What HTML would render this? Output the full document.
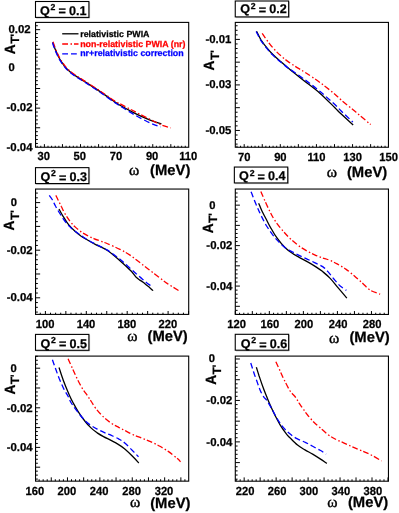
<!DOCTYPE html><html><head><meta charset="utf-8"><title>A_T plots</title>
<style>html,body{margin:0;padding:0;background:#fff}svg{display:block;will-change:transform;opacity:0.999}text{font-family:"Liberation Sans", sans-serif;font-weight:bold;fill:#000;stroke:#000;stroke-width:0.25px;text-rendering:geometricPrecision}</style></head><body>
<svg width="399" height="513" viewBox="0 0 399 513">
<rect width="399" height="513" fill="#fff"/>
<g transform="translate(0,0)">
<g transform="translate(0,0)"><rect x="35.5" y="1.5" width="53.4" height="15.9" fill="#fff" stroke="#000" stroke-width="1.1"/><path d="M89.6 2.2V18.1H36.2" fill="none" stroke="#000" stroke-opacity="0.35" stroke-width="0.7"/></g>
<text transform="translate(0,0)" y="14.6" font-size="12.6"><tspan x="39.9">Q</tspan><tspan x="50.6" font-size="8.7" dy="-4.5">2</tspan><tspan x="58.4" dy="5.2">=</tspan><tspan x="68.9" dy="-0.7">0.1</tspan></text>
<path d="M52.8 42.2C53.0 42.8 53.5 44.7 54.0 46.0C54.5 47.3 54.9 48.6 55.5 50.0C56.1 51.4 56.8 52.9 57.5 54.5C58.2 56.1 59.1 57.9 60.0 59.5C60.9 61.1 61.9 62.5 63.0 64.0C64.1 65.5 65.2 67.1 66.5 68.5C67.8 69.9 69.1 71.0 70.5 72.2C71.9 73.4 72.6 73.9 75.0 75.5C77.4 77.1 80.8 79.1 85.0 81.8C89.2 84.5 95.1 88.2 100.1 91.6C105.1 95.0 111.8 99.8 115.1 102.1C118.4 104.4 116.7 103.4 120.0 105.3C123.3 107.2 130.0 110.8 135.0 113.3C140.0 115.8 145.7 118.3 150.1 120.1C154.5 121.8 159.5 123.2 161.4 123.8" fill="none" stroke="#000" stroke-width="1.3"/>
<path d="M53.1 41.8C53.3 42.4 53.8 44.3 54.3 45.6C54.8 46.9 55.2 48.2 55.8 49.6C56.4 51.0 57.0 52.5 57.8 54.1C58.5 55.7 59.4 57.5 60.3 59.1C61.2 60.7 62.2 62.1 63.3 63.6C64.4 65.1 65.5 66.7 66.8 68.1C68.0 69.5 69.4 70.6 70.8 71.8C72.2 73.0 72.9 73.5 75.3 75.1C77.7 76.7 81.1 78.7 85.3 81.4C89.5 84.1 95.4 87.9 100.4 91.2C105.4 94.5 111.8 99.1 115.1 101.2C118.4 103.3 116.7 102.0 120.0 103.8C123.3 105.5 130.0 109.1 135.0 111.7C140.0 114.3 145.6 117.1 150.0 119.3C154.4 121.5 157.9 123.5 161.4 124.9C164.9 126.3 169.2 127.4 170.8 127.9" fill="none" stroke="#f00" stroke-width="1.3" stroke-dasharray="5.8 2.5 1.5 2"/>
<path d="M52.5 42.6C52.7 43.2 53.2 45.1 53.7 46.4C54.2 47.7 54.6 49.0 55.2 50.4C55.8 51.8 56.5 53.3 57.2 54.9C58.0 56.5 58.8 58.3 59.7 59.9C60.6 61.5 61.6 62.9 62.7 64.4C63.8 65.9 65.0 67.5 66.2 68.9C67.5 70.3 68.8 71.4 70.2 72.6C71.6 73.8 72.3 74.3 74.7 75.9C77.1 77.5 80.5 79.5 84.7 82.2C88.9 84.9 94.8 88.6 99.8 92.0C104.8 95.4 111.1 100.2 115.0 102.8C118.9 105.4 119.7 105.7 123.0 107.7C126.3 109.8 130.5 112.6 135.0 115.1C139.5 117.6 145.7 120.9 150.0 122.9C154.3 124.9 158.8 126.3 160.6 127.0" fill="none" stroke="#00f" stroke-width="1.3" stroke-dasharray="5.8 3"/>
<rect x="35.55" y="22.4" width="153.15" height="124.85" fill="none" stroke="#000" stroke-width="1.1"/>
<path d="M37.18 147.25v-1.5M40.79 147.25v-1.5M44.40 147.25v-3.1M48.01 147.25v-1.5M51.62 147.25v-1.5M55.24 147.25v-1.5M58.85 147.25v-1.5M62.46 147.25v-3.1M66.07 147.25v-1.5M69.68 147.25v-1.5M73.30 147.25v-1.5M76.91 147.25v-1.5M80.52 147.25v-3.1M84.13 147.25v-1.5M87.74 147.25v-1.5M91.36 147.25v-1.5M94.97 147.25v-1.5M98.58 147.25v-3.1M102.19 147.25v-1.5M105.80 147.25v-1.5M109.42 147.25v-1.5M113.03 147.25v-1.5M116.64 147.25v-3.1M120.25 147.25v-1.5M123.86 147.25v-1.5M127.48 147.25v-1.5M131.09 147.25v-1.5M134.70 147.25v-3.1M138.31 147.25v-1.5M141.92 147.25v-1.5M145.54 147.25v-1.5M149.15 147.25v-1.5M152.76 147.25v-3.1M156.37 147.25v-1.5M159.98 147.25v-1.5M163.60 147.25v-1.5M167.21 147.25v-1.5M170.82 147.25v-3.1M174.43 147.25v-1.5M178.04 147.25v-1.5M181.66 147.25v-1.5M185.27 147.25v-1.5" stroke="#000" stroke-width="1" fill="none"/>
<text transform="translate(43.7,160.3) scale(1,1.05)" font-size="11.2" text-anchor="middle">30</text>
<text transform="translate(79.8,160.3) scale(1,1.05)" font-size="11.2" text-anchor="middle">50</text>
<text transform="translate(115.9,160.3) scale(1,1.05)" font-size="11.2" text-anchor="middle">70</text>
<text transform="translate(152.1,160.3) scale(1,1.05)" font-size="11.2" text-anchor="middle">90</text>
<text transform="translate(188.2,160.3) scale(1,1.05)" font-size="11.2" text-anchor="middle">110</text>
<path d="M35.55 143.46h2.3M35.55 139.53h2.3M35.55 135.61h2.3M35.55 131.68h2.3M35.55 127.76h4.6M35.55 123.84h2.3M35.55 119.91h2.3M35.55 115.99h2.3M35.55 112.06h2.3M35.55 108.14h4.6M35.55 104.22h2.3M35.55 100.29h2.3M35.55 96.37h2.3M35.55 92.44h2.3M35.55 88.52h4.6M35.55 84.60h2.3M35.55 80.67h2.3M35.55 76.75h2.3M35.55 72.82h2.3M35.55 68.90h4.6M35.55 64.98h2.3M35.55 61.05h2.3M35.55 57.13h2.3M35.55 53.20h2.3M35.55 49.28h4.6M35.55 45.36h2.3M35.55 41.43h2.3M35.55 37.51h2.3M35.55 33.58h2.3M35.55 29.66h4.6M35.55 25.74h2.3" stroke="#000" stroke-width="1" fill="none"/>
<text x="19.50" y="33.0" font-size="11.4" text-anchor="middle">0.02</text>
<text x="19.50" y="111.4" font-size="11.4" text-anchor="middle">-0.02</text>
<text x="19.50" y="150.7" font-size="11.4" text-anchor="middle">-0.04</text>
<text x="8.5" y="71.1" font-size="11.2">0</text>
<g transform="translate(15,53.9) rotate(-90)"><text transform="scale(0.92,1)" x="-0.3" font-size="14.8">A</text><text x="10.1" y="4.2" font-size="12">T</text><text x="17.1" y="4.2" font-size="12">'</text></g>
<text x="129.0" y="175.3" font-size="15.6" style="font-weight:normal;stroke-width:0.4px;font-family:'Liberation Serif',serif">ω</text>
<text x="150.1" y="175.3" font-size="14.8">(MeV)</text>
<path d="M62.2 33.8H78.5" stroke="#000" stroke-width="1.3"/>
<path d="M62.2 44H78.5" stroke="#f00" stroke-width="1.3" stroke-dasharray="5.8 2.5 1.5 2"/>
<path d="M62.2 53.8H78.5" stroke="#00f" stroke-width="1.3" stroke-dasharray="5.8 3"/>
<text x="80.2" y="36.6" font-size="8.85">relativistic PWIA</text>
<text x="80.2" y="46.5" font-size="8.85" style="fill:#f00;stroke:#f00">non-relativistic PWIA (nr)</text>
<text x="80.2" y="56.3" font-size="8.85" style="fill:#00f;stroke:#00f">nr+relativistic correction</text>
</g>
<g transform="translate(199.75,0)">
<g transform="translate(0,-0.5)"><rect x="35.5" y="1.5" width="53.4" height="15.9" fill="#fff" stroke="#000" stroke-width="1.1"/><path d="M89.6 2.2V18.1H36.2" fill="none" stroke="#000" stroke-opacity="0.35" stroke-width="0.7"/></g>
<text transform="translate(0.5,-1.2)" y="14.6" font-size="12.6"><tspan x="39.9">Q</tspan><tspan x="50.6" font-size="8.7" dy="-4.5">2</tspan><tspan x="58.4" dy="5.2">=</tspan><tspan x="68.9" dy="-0.7">0.2</tspan></text>
<path d="M56.8 31.2C57.5 32.6 59.5 37.0 61.2 39.8C63.0 42.6 65.3 45.6 67.4 48.1C69.4 50.6 71.1 52.5 73.4 54.8C75.6 57.0 78.4 59.4 80.9 61.6C83.4 63.8 85.9 65.9 88.4 67.9C90.8 70.0 92.9 71.7 95.8 73.9C98.6 76.2 101.1 78.2 105.2 81.4C109.4 84.7 115.3 89.0 120.4 93.4C125.4 97.8 131.9 104.6 135.4 108.0C138.8 111.4 138.2 111.0 141.2 113.8C144.2 116.6 151.3 123.2 153.4 125.1" fill="none" stroke="#000" stroke-width="1.3"/>
<path d="M62.4 33.3C63.3 34.5 65.5 38.0 67.4 40.5C69.2 43.0 71.1 45.6 73.4 48.1C75.6 50.6 78.4 53.4 80.9 55.6C83.4 57.9 85.6 59.6 88.4 61.6C91.1 63.6 94.5 65.8 97.4 67.6C100.2 69.4 101.4 69.8 105.2 72.3C109.1 74.8 115.3 78.9 120.4 82.6C125.4 86.3 131.9 91.5 135.4 94.4C138.8 97.3 137.8 96.8 141.2 99.8C144.8 102.8 151.4 108.2 156.4 112.3C161.3 116.4 168.4 122.5 170.9 124.6" fill="none" stroke="#f00" stroke-width="1.3" stroke-dasharray="5.8 2.5 1.5 2"/>
<path d="M56.4 31.5C57.2 32.9 59.2 37.3 60.9 40.1C62.7 42.9 65.0 45.9 67.1 48.4C69.1 50.9 70.8 52.9 73.1 55.1C75.3 57.3 78.1 59.7 80.6 61.8C83.2 63.9 86.6 66.7 88.2 67.9C89.9 69.1 87.4 67.2 90.2 69.2C93.1 71.2 100.2 76.1 105.2 79.8C110.3 83.5 115.3 87.4 120.4 91.6C125.4 95.8 131.9 101.6 135.4 104.8C138.8 108.0 138.3 107.9 141.2 110.8C144.2 113.7 151.1 120.2 153.1 122.1" fill="none" stroke="#00f" stroke-width="1.3" stroke-dasharray="5.8 3"/>
<rect x="35.55" y="22.4" width="153.15" height="124.85" fill="none" stroke="#000" stroke-width="1.1"/>
<path d="M37.21 147.25v-1.5M40.82 147.25v-1.5M44.44 147.25v-3.1M48.05 147.25v-1.5M51.66 147.25v-1.5M55.27 147.25v-1.5M58.88 147.25v-1.5M62.50 147.25v-3.1M66.11 147.25v-1.5M69.72 147.25v-1.5M73.33 147.25v-1.5M76.94 147.25v-1.5M80.56 147.25v-3.1M84.17 147.25v-1.5M87.78 147.25v-1.5M91.39 147.25v-1.5M95.00 147.25v-1.5M98.62 147.25v-3.1M102.23 147.25v-1.5M105.84 147.25v-1.5M109.45 147.25v-1.5M113.06 147.25v-1.5M116.68 147.25v-3.1M120.29 147.25v-1.5M123.90 147.25v-1.5M127.51 147.25v-1.5M131.12 147.25v-1.5M134.74 147.25v-3.1M138.35 147.25v-1.5M141.96 147.25v-1.5M145.57 147.25v-1.5M149.18 147.25v-1.5M152.80 147.25v-3.1M156.41 147.25v-1.5M160.02 147.25v-1.5M163.63 147.25v-1.5M167.24 147.25v-1.5M170.86 147.25v-3.1M174.47 147.25v-1.5M178.08 147.25v-1.5M181.69 147.25v-1.5M185.30 147.25v-1.5" stroke="#000" stroke-width="1" fill="none"/>
<text transform="translate(44.4,160.6) scale(1,1.05)" font-size="11.2" text-anchor="middle">70</text>
<text transform="translate(80.6,160.6) scale(1,1.05)" font-size="11.2" text-anchor="middle">90</text>
<text transform="translate(116.7,160.6) scale(1,1.05)" font-size="11.2" text-anchor="middle">110</text>
<text transform="translate(152.8,160.6) scale(1,1.05)" font-size="11.2" text-anchor="middle">130</text>
<text transform="translate(188.9,160.6) scale(1,1.05)" font-size="11.2" text-anchor="middle">150</text>
<path d="M35.55 144.10h2.3M35.55 139.54h2.3M35.55 134.99h2.3M35.55 130.44h4.6M35.55 125.89h2.3M35.55 121.34h2.3M35.55 116.78h2.3M35.55 112.23h2.3M35.55 107.68h4.6M35.55 103.13h2.3M35.55 98.58h2.3M35.55 94.02h2.3M35.55 89.47h2.3M35.55 84.92h4.6M35.55 80.37h2.3M35.55 75.82h2.3M35.55 71.26h2.3M35.55 66.71h2.3M35.55 62.16h4.6M35.55 57.61h2.3M35.55 53.06h2.3M35.55 48.50h2.3M35.55 43.95h2.3M35.55 39.40h4.6M35.55 34.85h2.3M35.55 30.30h2.3M35.55 25.74h2.3" stroke="#000" stroke-width="1" fill="none"/>
<text x="18.70" y="42.8" font-size="11.4" text-anchor="middle">-0.01</text>
<text x="18.70" y="88.3" font-size="11.4" text-anchor="middle">-0.03</text>
<text x="18.70" y="133.8" font-size="11.4" text-anchor="middle">-0.05</text>
<g transform="translate(14.5,70.2) rotate(-90)"><text transform="scale(0.92,1)" x="-0.3" font-size="14.8">A</text><text x="10.1" y="5.2" font-size="12">T</text><text x="17.1" y="5.2" font-size="12">'</text></g>
<text x="127.0" y="177.2" font-size="15.6" style="font-weight:normal;stroke-width:0.4px;font-family:'Liberation Serif',serif">ω</text>
<text x="147.2" y="176.6" font-size="14.8">(MeV)</text>
</g>
<g transform="translate(0,166.65)">
<g transform="translate(0,-0.5)"><rect x="35.5" y="1.5" width="53.4" height="15.9" fill="#fff" stroke="#000" stroke-width="1.1"/><path d="M89.6 2.2V18.1H36.2" fill="none" stroke="#000" stroke-opacity="0.35" stroke-width="0.7"/></g>
<text transform="translate(0.5,-0.3)" y="14.6" font-size="12.6"><tspan x="39.9">Q</tspan><tspan x="50.6" font-size="8.7" dy="-4.5">2</tspan><tspan x="58.4" dy="5.2">=</tspan><tspan x="68.9" dy="-0.7">0.3</tspan></text>
<path d="M59.0 42.3C59.8 43.8 62.1 48.2 63.8 50.8C65.4 53.5 66.9 56.1 68.8 58.3C70.6 60.6 72.9 62.7 75.0 64.6C77.1 66.5 79.2 68.1 81.2 69.6C83.3 71.1 85.0 71.9 87.5 73.3C90.0 74.8 92.9 76.5 96.2 78.2C99.6 80.0 103.5 81.3 107.5 83.9C111.5 86.6 116.2 90.7 120.0 94.0C123.8 97.2 127.9 101.3 130.0 103.3C132.1 105.4 131.5 104.8 132.5 106.0C133.5 107.3 135.1 109.5 136.2 110.7C137.4 111.8 138.4 112.4 139.4 113.2C140.4 113.9 140.9 114.1 142.5 115.2C144.1 116.4 147.0 118.8 148.8 120.2C150.5 121.7 152.4 123.3 153.1 124.0" fill="none" stroke="#000" stroke-width="1.3"/>
<path d="M55.8 28.7C56.2 29.4 57.2 31.5 58.1 33.3C59.0 35.2 60.1 37.3 61.2 39.6C62.4 41.9 63.5 44.6 65.0 47.1C66.5 49.6 68.3 52.4 70.0 54.6C71.7 56.8 73.1 58.5 75.0 60.2C76.9 62.0 79.2 63.8 81.2 65.2C83.3 66.7 85.4 67.8 87.5 68.9C89.6 70.1 91.7 71.1 93.8 71.9C95.8 72.8 97.6 73.4 99.9 74.2C102.2 75.1 104.2 75.7 107.5 77.1C110.8 78.5 116.2 80.8 120.0 82.8C123.8 84.7 126.2 86.0 130.0 88.5C133.8 91.1 138.3 94.8 142.5 98.0C146.7 101.1 150.8 104.4 155.0 107.5C159.2 110.7 163.5 114.2 167.5 117.0C171.5 119.7 176.9 122.8 178.8 124.0" fill="none" stroke="#f00" stroke-width="1.3" stroke-dasharray="5.8 2.5 1.5 2"/>
<path d="M49.3 28.7C49.8 29.4 51.5 31.5 52.5 33.3C53.5 35.2 54.4 37.3 55.6 39.6C56.9 41.9 58.4 44.6 60.0 47.1C61.6 49.6 63.3 52.4 65.0 54.6C66.7 56.8 68.3 58.6 70.0 60.2C71.7 61.9 73.1 63.1 75.0 64.6C76.9 66.0 79.2 67.5 81.2 68.9C83.3 70.4 85.2 71.7 87.5 73.1C89.8 74.5 91.7 75.5 95.0 77.2C98.3 79.0 103.3 81.0 107.5 83.5C111.7 86.1 116.2 89.8 120.0 92.7C123.8 95.7 127.3 99.1 130.0 101.5C132.7 103.8 134.2 105.2 136.2 107.1C138.3 108.9 140.4 110.8 142.5 112.5C144.6 114.3 147.1 116.5 148.8 117.7C150.4 119.0 151.7 119.8 152.2 120.2" fill="none" stroke="#00f" stroke-width="1.3" stroke-dasharray="5.8 3"/>
<rect x="35.55" y="22.4" width="153.15" height="125.35" fill="none" stroke="#000" stroke-width="1.1"/>
<path d="M40.28 147.75v-1.7M45.40 147.75v-3.4M50.51 147.75v-1.7M55.62 147.75v-1.7M60.73 147.75v-1.7M65.85 147.75v-3.4M70.96 147.75v-1.7M76.07 147.75v-1.7M81.18 147.75v-1.7M86.30 147.75v-3.4M91.41 147.75v-1.7M96.52 147.75v-1.7M101.63 147.75v-1.7M106.75 147.75v-3.4M111.86 147.75v-1.7M116.97 147.75v-1.7M122.08 147.75v-1.7M127.20 147.75v-3.4M132.31 147.75v-1.7M137.42 147.75v-1.7M142.53 147.75v-1.7M147.65 147.75v-3.4M152.76 147.75v-1.7M157.87 147.75v-1.7M162.98 147.75v-1.7M168.10 147.75v-3.4M173.21 147.75v-1.7M178.32 147.75v-1.7M183.43 147.75v-1.7M188.55 147.75v-3.4" stroke="#000" stroke-width="1" fill="none"/>
<text transform="translate(45.1,161.7) scale(1,1.05)" font-size="11.2" text-anchor="middle">100</text>
<text transform="translate(86.0,161.7) scale(1,1.05)" font-size="11.2" text-anchor="middle">140</text>
<text transform="translate(126.9,161.7) scale(1,1.05)" font-size="11.2" text-anchor="middle">180</text>
<text transform="translate(167.8,161.7) scale(1,1.05)" font-size="11.2" text-anchor="middle">220</text>
<path d="M35.55 145.43h2.3M35.55 140.67h2.3M35.55 135.91h2.3M35.55 131.15h4.6M35.55 126.39h2.3M35.55 121.63h2.3M35.55 116.87h2.3M35.55 112.11h2.3M35.55 107.35h4.6M35.55 102.59h2.3M35.55 97.83h2.3M35.55 93.07h2.3M35.55 88.31h2.3M35.55 83.55h4.6M35.55 78.79h2.3M35.55 74.03h2.3M35.55 69.27h2.3M35.55 64.51h2.3M35.55 59.75h4.6M35.55 54.99h2.3M35.55 50.23h2.3M35.55 45.47h2.3M35.55 40.71h2.3M35.55 35.95h4.6M35.55 31.19h2.3M35.55 26.43h2.3" stroke="#000" stroke-width="1" fill="none"/>
<text x="19.65" y="87.2" font-size="11.4" text-anchor="middle">-0.02</text>
<text x="19.65" y="134.8" font-size="11.4" text-anchor="middle">-0.04</text>
<text x="10.8" y="39.3" font-size="11.2">0</text>
<g transform="translate(14,63.55) rotate(-90)"><text transform="scale(0.92,1)" x="-0.3" font-size="14.8">A</text><text x="10.1" y="5" font-size="12">T</text><text x="17.1" y="5" font-size="12">'</text></g>
<text x="127.2" y="174.7" font-size="15.6" style="font-weight:normal;stroke-width:0.4px;font-family:'Liberation Serif',serif">ω</text>
<text x="147.5" y="174.2" font-size="14.8">(MeV)</text>
</g>
<g transform="translate(199.75,166.65)">
<g transform="translate(-0.9,-1.1)"><rect x="35.5" y="1.5" width="53.4" height="15.9" fill="#fff" stroke="#000" stroke-width="1.1"/><path d="M89.6 2.2V18.1H36.2" fill="none" stroke="#000" stroke-opacity="0.35" stroke-width="0.7"/></g>
<text transform="translate(-0.6,-0.8)" y="14.6" font-size="12.6"><tspan x="39.9">Q</tspan><tspan x="50.6" font-size="8.7" dy="-4.5">2</tspan><tspan x="58.4" dy="5.2">=</tspan><tspan x="68.9" dy="-0.7">0.4</tspan></text>
<path d="M58.9 36.5C59.5 37.9 60.9 41.6 62.2 44.4C63.6 47.3 65.3 50.5 66.9 53.4C68.4 56.4 69.6 58.9 71.4 61.9C73.1 65.0 75.2 68.7 77.6 71.8C79.9 75.0 82.7 78.4 85.2 80.9C87.8 83.5 90.3 85.2 92.9 86.9C95.4 88.6 97.9 89.8 100.4 91.2C102.9 92.5 105.4 93.7 107.9 95.2C110.4 96.6 112.9 98.1 115.4 99.7C117.8 101.3 120.1 102.8 122.6 104.7C125.0 106.7 127.6 108.7 130.2 111.5C132.9 114.2 135.4 117.7 138.2 121.0C141.1 124.4 145.7 129.8 147.1 131.5" fill="none" stroke="#000" stroke-width="1.3"/>
<path d="M61.1 24.8C61.8 26.5 63.9 31.4 65.4 34.7C66.8 37.9 68.4 41.4 69.9 44.4C71.4 47.4 72.6 49.9 74.4 52.7C76.1 55.4 78.4 58.4 80.4 60.9C82.4 63.5 84.3 65.5 86.4 67.8C88.4 70.0 90.5 72.1 92.9 74.2C95.2 76.2 97.9 78.4 100.4 80.2C102.9 81.9 105.4 83.3 107.9 84.7C110.4 86.0 112.9 87.4 115.4 88.4C117.8 89.5 120.1 90.3 122.6 91.2C125.0 92.0 127.6 92.6 130.2 93.7C132.9 94.8 135.6 96.3 138.2 97.7C140.9 99.2 143.7 100.8 146.4 102.7C149.0 104.5 151.7 106.8 154.4 109.0C157.0 111.3 159.7 113.8 162.4 116.2C165.0 118.6 167.4 121.6 170.4 123.5C173.4 125.3 178.7 126.8 180.4 127.5" fill="none" stroke="#f00" stroke-width="1.3" stroke-dasharray="5.8 2.5 1.5 2"/>
<path d="M51.3 25.2C51.9 26.6 53.4 30.5 54.5 33.3C55.6 36.2 57.0 39.3 58.2 42.1C59.5 44.9 60.5 47.3 62.0 50.2C63.5 53.2 65.2 56.7 67.0 59.6C68.8 62.5 70.8 65.3 72.6 67.8C74.5 70.2 76.0 72.0 78.1 74.2C80.2 76.4 82.8 79.1 85.2 80.9C87.7 82.8 90.3 84.1 92.9 85.4C95.4 86.8 97.9 88.0 100.4 89.2C102.9 90.4 105.4 91.5 107.9 92.7C110.4 93.8 112.9 95.0 115.4 96.2C117.9 97.5 120.7 98.5 122.9 100.0C125.0 101.4 126.4 102.9 128.2 105.0C130.1 107.0 132.1 110.0 134.1 112.3C136.1 114.7 138.2 117.3 140.2 119.2C142.3 121.0 145.5 122.9 146.6 123.7" fill="none" stroke="#00f" stroke-width="1.3" stroke-dasharray="5.8 3"/>
<rect x="35.55" y="22.4" width="153.15" height="125.4" fill="none" stroke="#000" stroke-width="1.1"/>
<path d="M35.55 147.80v-3.4M39.80 147.80v-1.7M44.06 147.80v-1.7M48.31 147.80v-1.7M52.57 147.80v-3.4M56.82 147.80v-1.7M61.08 147.80v-1.7M65.33 147.80v-1.7M69.59 147.80v-3.4M73.84 147.80v-1.7M78.10 147.80v-1.7M82.35 147.80v-1.7M86.61 147.80v-3.4M90.86 147.80v-1.7M95.12 147.80v-1.7M99.38 147.80v-1.7M103.63 147.80v-3.4M107.88 147.80v-1.7M112.14 147.80v-1.7M116.39 147.80v-1.7M120.65 147.80v-3.4M124.91 147.80v-1.7M129.16 147.80v-1.7M133.41 147.80v-1.7M137.67 147.80v-3.4M141.93 147.80v-1.7M146.18 147.80v-1.7M150.44 147.80v-1.7M154.69 147.80v-3.4M158.94 147.80v-1.7M163.20 147.80v-1.7M167.45 147.80v-1.7M171.71 147.80v-3.4M175.96 147.80v-1.7M180.22 147.80v-1.7M184.47 147.80v-1.7" stroke="#000" stroke-width="1" fill="none"/>
<text transform="translate(36.9,161.8) scale(1,1.05)" font-size="11.2" text-anchor="middle">120</text>
<text transform="translate(70.2,161.8) scale(1,1.05)" font-size="11.2" text-anchor="middle">160</text>
<text transform="translate(104.2,161.8) scale(1,1.05)" font-size="11.2" text-anchor="middle">200</text>
<text transform="translate(138.3,161.8) scale(1,1.05)" font-size="11.2" text-anchor="middle">240</text>
<text transform="translate(172.3,161.8) scale(1,1.05)" font-size="11.2" text-anchor="middle">280</text>
<path d="M35.55 147.74h2.3M35.55 143.70h2.3M35.55 139.65h4.6M35.55 135.60h2.3M35.55 131.56h2.3M35.55 127.51h2.3M35.55 123.47h2.3M35.55 119.42h4.6M35.55 115.37h2.3M35.55 111.33h2.3M35.55 107.28h2.3M35.55 103.24h2.3M35.55 99.19h4.6M35.55 95.14h2.3M35.55 91.10h2.3M35.55 87.05h2.3M35.55 83.01h2.3M35.55 78.96h4.6M35.55 74.91h2.3M35.55 70.87h2.3M35.55 66.82h2.3M35.55 62.78h2.3M35.55 58.73h4.6M35.55 54.68h2.3M35.55 50.64h2.3M35.55 46.59h2.3M35.55 42.55h2.3M35.55 38.50h4.6M35.55 34.45h2.3M35.55 30.41h2.3M35.55 26.36h2.3" stroke="#000" stroke-width="1" fill="none"/>
<text x="19.60" y="82.7" font-size="11.4" text-anchor="middle">-0.02</text>
<text x="19.60" y="123.2" font-size="11.4" text-anchor="middle">-0.04</text>
<text x="9.4" y="42.1" font-size="11.2">0</text>
<g transform="translate(12.85,66.35) rotate(-90)"><text transform="scale(0.92,1)" x="-0.3" font-size="14.8">A</text><text x="10.1" y="4.5" font-size="12">T</text><text x="17.1" y="4.5" font-size="12">'</text></g>
<text x="129.3" y="176.6" font-size="15.6" style="font-weight:normal;stroke-width:0.4px;font-family:'Liberation Serif',serif">ω</text>
<text x="149.7" y="175.4" font-size="14.8">(MeV)</text>
</g>
<g transform="translate(0,333.3)">
<g transform="translate(0,-0.4)"><rect x="35.5" y="1.5" width="53.4" height="15.9" fill="#fff" stroke="#000" stroke-width="1.1"/><path d="M89.6 2.2V18.1H36.2" fill="none" stroke="#000" stroke-opacity="0.35" stroke-width="0.7"/></g>
<text transform="translate(0.5,-0.2)" y="14.6" font-size="12.6"><tspan x="39.9">Q</tspan><tspan x="50.6" font-size="8.7" dy="-4.5">2</tspan><tspan x="58.4" dy="5.2">=</tspan><tspan x="68.9" dy="-0.7">0.5</tspan></text>
<path d="M59.0 34.2C59.5 35.6 60.7 39.6 61.8 42.7C62.8 45.8 64.2 49.5 65.5 52.7C66.8 55.9 68.2 59.2 69.5 62.1C70.8 65.0 72.0 67.4 73.5 70.2C75.0 73.0 76.6 76.0 78.5 78.9C80.4 81.9 82.7 85.1 84.8 87.7C86.8 90.3 88.9 92.6 91.0 94.6C93.1 96.6 95.2 98.1 97.2 99.6C99.3 101.0 101.2 102.1 103.5 103.3C105.8 104.6 108.8 105.9 111.0 107.1C113.2 108.3 114.7 108.9 117.0 110.3C119.3 111.7 122.0 113.3 124.8 115.6C127.5 117.9 131.2 121.5 133.5 123.9C135.8 126.2 137.9 128.7 138.8 129.7" fill="none" stroke="#000" stroke-width="1.3"/>
<path d="M68.1 25.4C68.8 27.1 71.1 32.2 72.6 35.5C74.1 38.8 75.5 42.1 77.1 45.3C78.7 48.6 80.5 52.0 82.3 55.0C84.1 58.0 86.5 60.9 88.0 63.2C89.5 65.5 90.2 66.6 91.6 68.7C92.9 70.7 94.1 73.0 96.1 75.5C98.1 78.0 101.1 81.4 103.6 83.8C106.1 86.2 108.6 88.1 111.1 89.8C113.6 91.5 116.3 92.8 118.6 94.0C120.9 95.2 122.3 95.9 124.8 97.2C127.3 98.5 130.6 100.3 133.5 101.6C136.4 102.9 139.4 103.9 142.3 105.1C145.2 106.3 148.2 107.3 151.1 108.6C154.0 109.9 157.0 111.4 159.9 113.0C162.8 114.6 165.7 116.3 168.6 118.3C171.5 120.4 175.4 123.6 177.4 125.3C179.4 127.0 180.1 128.0 180.6 128.5" fill="none" stroke="#f00" stroke-width="1.3" stroke-dasharray="5.8 2.5 1.5 2"/>
<path d="M52.4 26.4C52.9 27.9 54.4 32.1 55.5 35.2C56.6 38.3 57.9 41.9 59.2 45.2C60.6 48.5 62.2 52.3 63.6 55.2C65.0 58.1 66.6 60.2 67.9 62.7C69.2 65.2 69.9 67.5 71.6 70.2C73.3 72.9 75.7 76.1 77.9 78.9C80.1 81.8 82.6 84.9 84.8 87.1C86.9 89.3 88.9 90.6 91.0 92.1C93.1 93.5 95.2 94.7 97.2 95.8C99.3 96.9 101.4 98.0 103.5 98.9C105.6 99.9 107.2 100.3 109.8 101.4C112.3 102.6 116.1 104.2 118.6 105.6C121.1 107.0 122.3 107.6 124.8 109.7C127.3 111.8 131.2 116.0 133.5 118.3C135.8 120.6 137.7 122.6 138.5 123.5" fill="none" stroke="#00f" stroke-width="1.3" stroke-dasharray="5.8 3"/>
<rect x="35.55" y="22.8" width="153.15" height="125.05" fill="none" stroke="#000" stroke-width="1.1"/>
<path d="M39.11 147.85v-1.9M43.16 147.85v-1.9M47.21 147.85v-1.9M51.26 147.85v-3.8M55.31 147.85v-1.9M59.36 147.85v-1.9M63.41 147.85v-1.9M67.46 147.85v-3.8M71.51 147.85v-1.9M75.56 147.85v-1.9M79.61 147.85v-1.9M83.66 147.85v-3.8M87.71 147.85v-1.9M91.76 147.85v-1.9M95.81 147.85v-1.9M99.86 147.85v-3.8M103.91 147.85v-1.9M107.96 147.85v-1.9M112.01 147.85v-1.9M116.06 147.85v-3.8M120.11 147.85v-1.9M124.16 147.85v-1.9M128.21 147.85v-1.9M132.26 147.85v-3.8M136.31 147.85v-1.9M140.36 147.85v-1.9M144.41 147.85v-1.9M148.46 147.85v-3.8M152.51 147.85v-1.9M156.56 147.85v-1.9M160.61 147.85v-1.9M164.66 147.85v-3.8M168.71 147.85v-1.9M172.76 147.85v-1.9M176.81 147.85v-1.9M180.86 147.85v-3.8M184.91 147.85v-1.9" stroke="#000" stroke-width="1" fill="none"/>
<text transform="translate(34.9,162.1) scale(1,1.05)" font-size="11.2" text-anchor="middle">160</text>
<text transform="translate(66.8,162.1) scale(1,1.05)" font-size="11.2" text-anchor="middle">200</text>
<text transform="translate(99.2,162.1) scale(1,1.05)" font-size="11.2" text-anchor="middle">240</text>
<text transform="translate(131.6,162.1) scale(1,1.05)" font-size="11.2" text-anchor="middle">280</text>
<text transform="translate(164.0,162.1) scale(1,1.05)" font-size="11.2" text-anchor="middle">320</text>
<path d="M35.55 145.78h2.3M35.55 141.82h2.3M35.55 137.86h2.3M35.55 133.90h4.6M35.55 129.94h2.3M35.55 125.98h2.3M35.55 122.02h2.3M35.55 118.06h2.3M35.55 114.10h4.6M35.55 110.14h2.3M35.55 106.18h2.3M35.55 102.22h2.3M35.55 98.26h2.3M35.55 94.30h4.6M35.55 90.34h2.3M35.55 86.38h2.3M35.55 82.42h2.3M35.55 78.46h2.3M35.55 74.50h4.6M35.55 70.54h2.3M35.55 66.58h2.3M35.55 62.62h2.3M35.55 58.66h2.3M35.55 54.70h4.6M35.55 50.74h2.3M35.55 46.78h2.3M35.55 42.82h2.3M35.55 38.86h2.3M35.55 34.90h4.6M35.55 30.94h2.3M35.55 26.98h2.3M35.55 23.02h2.3" stroke="#000" stroke-width="1" fill="none"/>
<text x="19.65" y="78.5" font-size="11.4" text-anchor="middle">-0.02</text>
<text x="19.65" y="118.0" font-size="11.4" text-anchor="middle">-0.04</text>
<text x="10.6" y="38.6" font-size="11.2">0</text>
<g transform="translate(15,61) rotate(-90)"><text transform="scale(0.92,1)" x="-0.3" font-size="14.8">A</text><text x="10.1" y="4" font-size="12">T</text><text x="17.1" y="4" font-size="12">'</text></g>
<text x="130.1" y="173.8" font-size="15.6" style="font-weight:normal;stroke-width:0.4px;font-family:'Liberation Serif',serif">ω</text>
<text x="150.2" y="174.4" font-size="14.8">(MeV)</text>
</g>
<g transform="translate(199.75,333.3)">
<g transform="translate(0,-0.5)"><rect x="35.5" y="1.5" width="53.4" height="15.9" fill="#fff" stroke="#000" stroke-width="1.1"/><path d="M89.6 2.2V18.1H36.2" fill="none" stroke="#000" stroke-opacity="0.35" stroke-width="0.7"/></g>
<text transform="translate(1,0)" y="14.6" font-size="12.6"><tspan x="39.9">Q</tspan><tspan x="50.6" font-size="8.7" dy="-4.5">2</tspan><tspan x="58.4" dy="5.2">=</tspan><tspan x="68.9" dy="-0.7">0.6</tspan></text>
<path d="M56.6 34.0C57.0 35.4 58.2 38.9 59.2 42.2C60.3 45.4 61.8 50.0 63.1 53.5C64.3 57.0 65.6 60.1 66.8 63.0C67.9 65.9 68.8 68.1 70.1 70.9C71.3 73.7 72.5 76.6 74.2 80.0C76.0 83.4 78.2 87.9 80.2 91.3C82.3 94.7 84.7 98.1 86.4 100.3C88.0 102.5 88.4 102.6 90.2 104.5C92.1 106.4 95.2 109.8 97.8 111.8C100.2 113.8 102.7 115.1 105.2 116.6C107.8 118.1 110.3 119.3 112.9 120.8C115.4 122.3 118.0 124.0 120.4 125.6C122.7 127.1 125.9 129.3 127.1 130.1" fill="none" stroke="#000" stroke-width="1.3"/>
<path d="M76.1 28.4C76.8 29.9 78.9 34.5 80.4 37.7C81.8 40.9 83.2 44.2 84.9 47.5C86.5 50.8 88.4 54.6 90.1 57.3C91.9 60.0 94.0 61.7 95.6 63.7C97.1 65.7 97.9 67.4 99.2 69.5C100.6 71.6 102.2 74.1 103.8 76.2C105.2 78.3 106.5 80.1 108.2 82.2C110.0 84.3 112.2 87.0 114.2 89.0C116.2 91.0 117.9 92.3 120.2 94.3C122.6 96.4 125.7 99.4 128.2 101.3C130.8 103.2 132.8 104.3 135.4 105.7C137.9 107.1 141.1 108.3 143.8 109.5C146.4 110.7 148.7 111.8 151.2 112.9C153.8 114.0 156.3 115.1 158.9 116.2C161.4 117.3 163.9 118.2 166.4 119.3C168.9 120.4 171.3 121.6 173.9 123.0C176.4 124.4 180.4 126.8 181.8 127.6" fill="none" stroke="#f00" stroke-width="1.3" stroke-dasharray="5.8 2.5 1.5 2"/>
<path d="M51.0 29.7C51.5 31.2 52.8 35.5 53.8 38.4C54.7 41.4 55.8 44.3 56.9 47.2C57.9 50.1 58.9 53.2 60.0 55.9C61.1 58.7 62.6 61.6 63.8 63.4C64.9 65.3 65.5 65.0 66.9 66.9C68.2 68.8 69.8 71.5 71.6 74.7C73.5 77.9 75.8 82.7 77.8 85.9C79.7 89.2 81.5 91.7 83.5 94.1C85.5 96.5 87.5 98.4 89.8 100.3C92.0 102.2 94.5 103.8 97.2 105.3C100.0 106.8 103.4 108.0 106.0 109.3C108.6 110.6 110.5 111.6 112.9 112.9C115.2 114.2 118.1 115.7 120.4 117.0C122.6 118.3 125.4 120.2 126.4 120.8" fill="none" stroke="#00f" stroke-width="1.3" stroke-dasharray="5.8 3"/>
<rect x="35.55" y="22.8" width="153.15" height="125.1" fill="none" stroke="#000" stroke-width="1.1"/>
<path d="M36.43 147.90v-1.9M40.42 147.90v-1.9M44.42 147.90v-3.8M48.41 147.90v-1.9M52.41 147.90v-1.9M56.40 147.90v-1.9M60.40 147.90v-3.8M64.39 147.90v-1.9M68.39 147.90v-1.9M72.38 147.90v-1.9M76.38 147.90v-3.8M80.37 147.90v-1.9M84.37 147.90v-1.9M88.36 147.90v-1.9M92.36 147.90v-3.8M96.35 147.90v-1.9M100.35 147.90v-1.9M104.34 147.90v-1.9M108.34 147.90v-3.8M112.33 147.90v-1.9M116.33 147.90v-1.9M120.32 147.90v-1.9M124.32 147.90v-3.8M128.31 147.90v-1.9M132.31 147.90v-1.9M136.30 147.90v-1.9M140.30 147.90v-3.8M144.29 147.90v-1.9M148.29 147.90v-1.9M152.28 147.90v-1.9M156.28 147.90v-3.8M160.27 147.90v-1.9M164.27 147.90v-1.9M168.26 147.90v-1.9M172.26 147.90v-3.8M176.25 147.90v-1.9M180.25 147.90v-1.9M184.24 147.90v-1.9M188.24 147.90v-3.8" stroke="#000" stroke-width="1" fill="none"/>
<text transform="translate(45.3,162.1) scale(1,1.05)" font-size="11.2" text-anchor="middle">220</text>
<text transform="translate(77.3,162.1) scale(1,1.05)" font-size="11.2" text-anchor="middle">260</text>
<text transform="translate(109.2,162.1) scale(1,1.05)" font-size="11.2" text-anchor="middle">300</text>
<text transform="translate(141.2,162.1) scale(1,1.05)" font-size="11.2" text-anchor="middle">340</text>
<text transform="translate(173.2,162.1) scale(1,1.05)" font-size="11.2" text-anchor="middle">380</text>
<path d="M35.55 145.88h2.3M35.55 141.73h2.3M35.55 137.59h2.3M35.55 133.44h2.3M35.55 129.30h4.6M35.55 125.16h2.3M35.55 121.01h2.3M35.55 116.87h2.3M35.55 112.72h2.3M35.55 108.58h4.6M35.55 104.44h2.3M35.55 100.29h2.3M35.55 96.15h2.3M35.55 92.00h2.3M35.55 87.86h4.6M35.55 83.72h2.3M35.55 79.57h2.3M35.55 75.43h2.3M35.55 71.28h2.3M35.55 67.14h4.6M35.55 63.00h2.3M35.55 58.85h2.3M35.55 54.71h2.3M35.55 50.56h2.3M35.55 46.42h4.6M35.55 42.28h2.3M35.55 38.13h2.3M35.55 33.99h2.3M35.55 29.84h2.3M35.55 25.70h4.6" stroke="#000" stroke-width="1" fill="none"/>
<text x="19.60" y="70.9" font-size="11.4" text-anchor="middle">-0.02</text>
<text x="19.60" y="112.4" font-size="11.4" text-anchor="middle">-0.04</text>
<text x="9.0" y="28.4" font-size="11.2">0</text>
<g transform="translate(16.4,51.3) rotate(-90)"><text transform="scale(0.92,1)" x="-0.3" font-size="14.8">A</text><text x="10.1" y="4.5" font-size="12">T</text><text x="17.1" y="4.5" font-size="12">'</text></g>
<text x="127.4" y="173.8" font-size="15.6" style="font-weight:normal;stroke-width:0.4px;font-family:'Liberation Serif',serif">ω</text>
<text x="148.2" y="174.2" font-size="14.8">(MeV)</text>
</g>
</svg></body></html>
